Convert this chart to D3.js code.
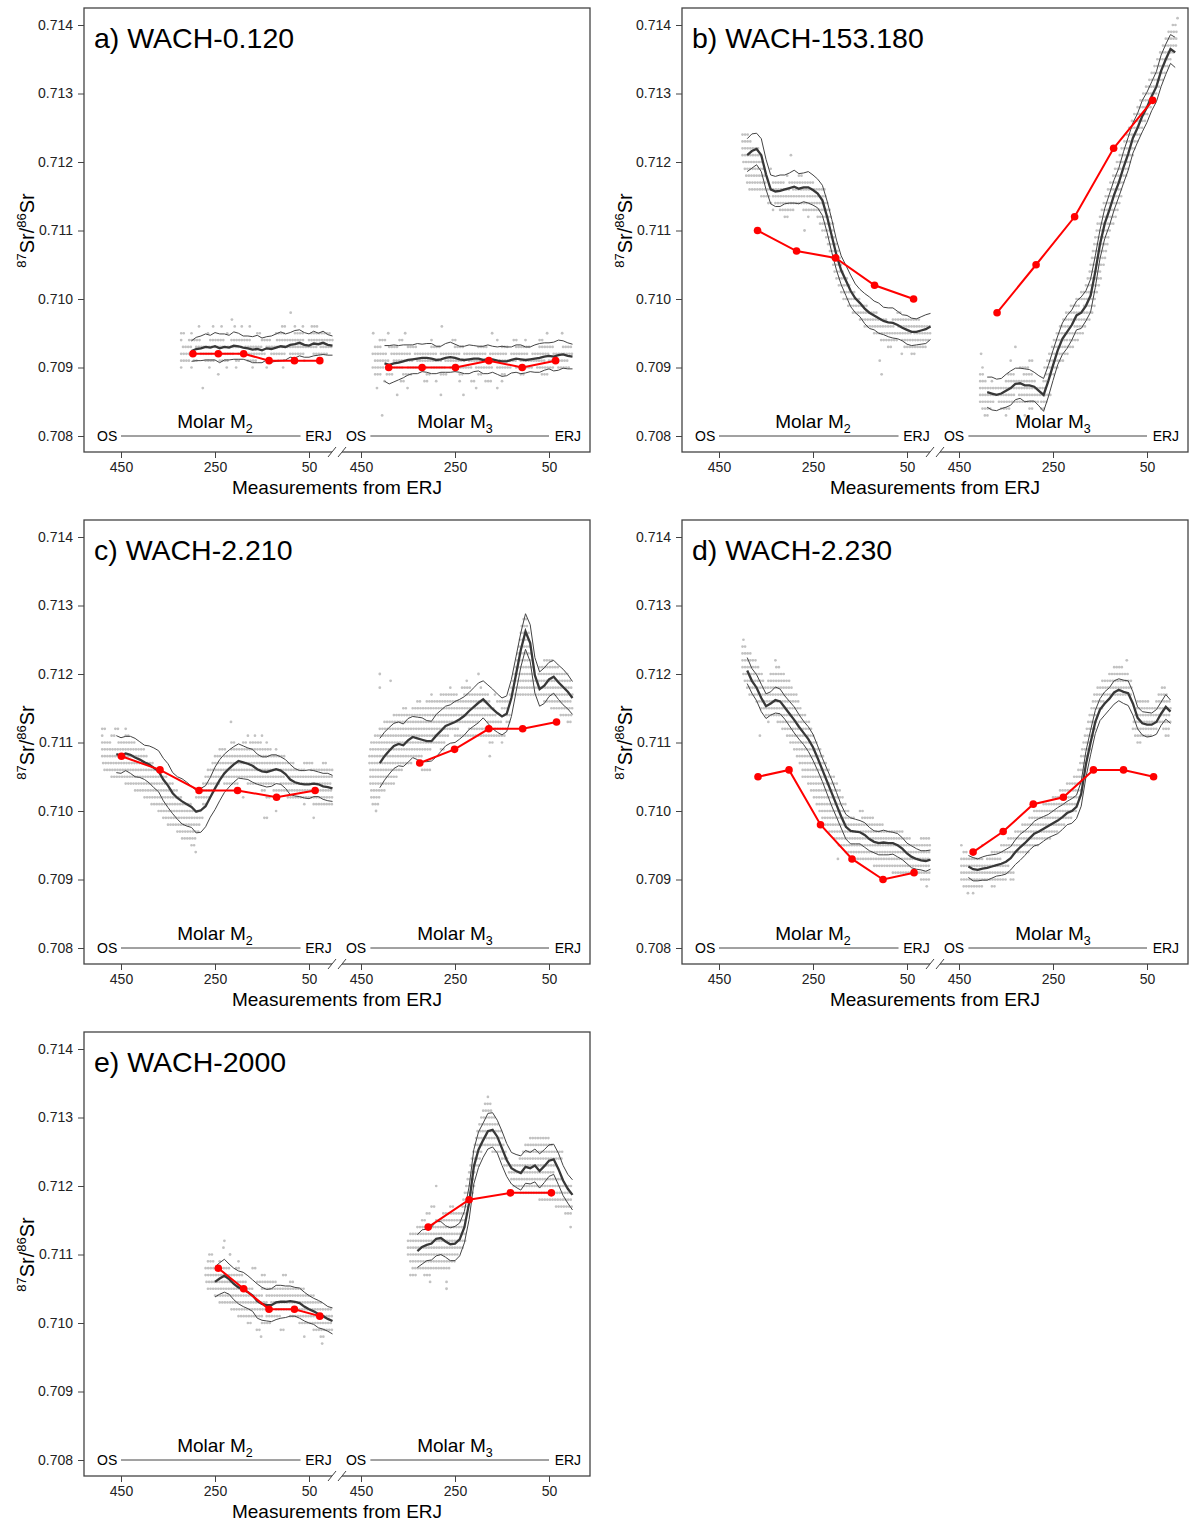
<!DOCTYPE html>
<html>
<head>
<meta charset="UTF-8">
<style>
  body { margin: 0; background: #fff; }
  svg { display: block; font-family: "Liberation Sans", Arial, sans-serif; }
</style>
</head>
<body>
<svg id="chart" width="1200" height="1524"></svg>
<script src="https://d3js.org/d3.v7.min.js"></script>
<script>

// ---- axis ticks
const yTicks = [0.708, 0.709, 0.710, 0.711, 0.712, 0.713, 0.714];
const xTicks = [450, 250, 50];

// ---- smoothed mean (every 10 units from ERJ, starting at *Start) and its CI half-width
const a2Start = 300;
const a2Mean = [0.70924,0.70927,0.70928,0.70930,0.70929,0.70931,0.70928,0.70930,0.70929,0.70932,0.70931,0.70929,0.70928,0.70926,0.70927,0.70925,0.70928,0.70927,0.70929,0.70931,0.70930,0.70933,0.70934,0.70936,0.70933,0.70932,0.70935,0.70934,0.70936,0.70933,0.70932];
const a2Ci = [0.00015,0.00017,0.00018,0.00019,0.00018,0.00020,0.00021,0.00019,0.00018,0.00020,0.00019,0.00017,0.00018,0.00019,0.00020,0.00018,0.00017,0.00019,0.00020,0.00021,0.00019,0.00018,0.00020,0.00019,0.00018,0.00017,0.00018,0.00016,0.00017,0.00015,0.00014];
const a3Start = 400;
const a3Mean = [0.70906,0.70904,0.70906,0.70907,0.70909,0.70911,0.70912,0.70913,0.70914,0.70914,0.70913,0.70911,0.70912,0.70914,0.70915,0.70914,0.70912,0.70911,0.70912,0.70913,0.70913,0.70911,0.70912,0.70912,0.70910,0.70909,0.70909,0.70911,0.70913,0.70912,0.70911,0.70912,0.70913,0.70914,0.70916,0.70917,0.70916,0.70918,0.70919,0.70917,0.70916];
const a3Ci = [0.00026,0.00028,0.00027,0.00025,0.00024,0.00022,0.00021,0.00022,0.00020,0.00021,0.00022,0.00020,0.00019,0.00021,0.00022,0.00020,0.00019,0.00020,0.00021,0.00019,0.00018,0.00020,0.00021,0.00019,0.00020,0.00022,0.00021,0.00019,0.00020,0.00021,0.00019,0.00018,0.00020,0.00021,0.00020,0.00019,0.00021,0.00022,0.00020,0.00019,0.00018];

const b2Start = 390;
const b2Mean = [0.71210,0.71216,0.71219,0.71210,0.71182,0.71160,0.71157,0.71158,0.71160,0.71162,0.71164,0.71161,0.71163,0.71163,0.71159,0.71154,0.71144,0.71120,0.71092,0.71064,0.71042,0.71027,0.71012,0.71001,0.70994,0.70986,0.70980,0.70976,0.70972,0.70968,0.70966,0.70965,0.70962,0.70958,0.70955,0.70952,0.70952,0.70954,0.70956,0.70960];
const b2Ci = [0.00024,0.00025,0.00023,0.00024,0.00022,0.00021,0.00022,0.00023,0.00021,0.00022,0.00024,0.00022,0.00021,0.00023,0.00022,0.00021,0.00022,0.00023,0.00024,0.00022,0.00021,0.00022,0.00023,0.00021,0.00020,0.00022,0.00023,0.00021,0.00022,0.00020,0.00021,0.00022,0.00020,0.00019,0.00021,0.00020,0.00019,0.00020,0.00021,0.00019];
const b3Start = 390;
const b3Mean = [0.70864,0.70862,0.70860,0.70862,0.70866,0.70870,0.70876,0.70877,0.70874,0.70874,0.70872,0.70866,0.70860,0.70880,0.70903,0.70925,0.70942,0.70952,0.70962,0.70976,0.70980,0.70990,0.71005,0.71040,0.71080,0.71110,0.71130,0.71152,0.71170,0.71192,0.71212,0.71235,0.71250,0.71267,0.71280,0.71296,0.71310,0.71333,0.71350,0.71365,0.71360];
const b3Ci = [0.00022,0.00024,0.00023,0.00022,0.00024,0.00025,0.00023,0.00022,0.00024,0.00023,0.00021,0.00022,0.00024,0.00023,0.00022,0.00021,0.00023,0.00024,0.00022,0.00021,0.00023,0.00022,0.00024,0.00023,0.00021,0.00022,0.00023,0.00022,0.00021,0.00023,0.00024,0.00022,0.00021,0.00023,0.00022,0.00021,0.00022,0.00023,0.00022,0.00021,0.00022];

const c2Start = 460;
const c2Mean = [0.71083,0.71081,0.71084,0.71082,0.71078,0.71075,0.71071,0.71068,0.71063,0.71058,0.71046,0.71037,0.71026,0.71019,0.71014,0.71010,0.71006,0.70999,0.71001,0.71007,0.71020,0.71033,0.71045,0.71055,0.71062,0.71068,0.71073,0.71071,0.71069,0.71066,0.71061,0.71058,0.71057,0.71059,0.71061,0.71059,0.71054,0.71046,0.71042,0.71040,0.71039,0.71039,0.71040,0.71039,0.71036,0.71035,0.71033];
const c2Ci = [0.00027,0.00026,0.00025,0.00027,0.00028,0.00026,0.00025,0.00027,0.00029,0.00030,0.00031,0.00032,0.00030,0.00031,0.00033,0.00032,0.00030,0.00031,0.00032,0.00030,0.00029,0.00031,0.00030,0.00028,0.00027,0.00026,0.00025,0.00024,0.00023,0.00024,0.00022,0.00021,0.00022,0.00023,0.00021,0.00020,0.00021,0.00022,0.00020,0.00019,0.00020,0.00021,0.00019,0.00018,0.00019,0.00020,0.00019];
const c3Start = 410;
const c3Mean = [0.71070,0.71080,0.71088,0.71095,0.71098,0.71096,0.71103,0.71108,0.71106,0.71104,0.71102,0.71102,0.71110,0.71117,0.71124,0.71127,0.71130,0.71134,0.71139,0.71146,0.71152,0.71158,0.71163,0.71156,0.71149,0.71143,0.71138,0.71142,0.71165,0.71200,0.71235,0.71262,0.71245,0.71198,0.71178,0.71183,0.71192,0.71196,0.71188,0.71181,0.71174,0.71165];
const c3Ci = [0.00036,0.00035,0.00034,0.00033,0.00032,0.00031,0.00032,0.00030,0.00031,0.00032,0.00030,0.00029,0.00031,0.00030,0.00029,0.00028,0.00030,0.00029,0.00028,0.00027,0.00028,0.00029,0.00027,0.00028,0.00029,0.00028,0.00027,0.00026,0.00027,0.00026,0.00025,0.00026,0.00027,0.00026,0.00025,0.00026,0.00025,0.00024,0.00025,0.00026,0.00025,0.00024];

const d2Start = 390;
const d2Mean = [0.71205,0.71190,0.71180,0.71165,0.71153,0.71157,0.71162,0.71160,0.71151,0.71142,0.71133,0.71123,0.71114,0.71105,0.71093,0.71077,0.71060,0.71043,0.71026,0.71009,0.70992,0.70977,0.70971,0.70970,0.70969,0.70965,0.70959,0.70955,0.70953,0.70954,0.70953,0.70953,0.70950,0.70945,0.70938,0.70933,0.70930,0.70928,0.70927,0.70929];
const d2Ci = [0.00019,0.00018,0.00019,0.00020,0.00018,0.00017,0.00019,0.00018,0.00017,0.00018,0.00019,0.00018,0.00017,0.00018,0.00019,0.00018,0.00017,0.00018,0.00019,0.00018,0.00017,0.00018,0.00019,0.00018,0.00017,0.00018,0.00017,0.00016,0.00017,0.00018,0.00017,0.00016,0.00017,0.00016,0.00015,0.00016,0.00015,0.00014,0.00015,0.00014];
const d3Start = 430;
const d3Mean = [0.70919,0.70915,0.70914,0.70916,0.70917,0.70919,0.70921,0.70923,0.70926,0.70931,0.70940,0.70947,0.70953,0.70960,0.70967,0.70970,0.70974,0.70978,0.70982,0.70986,0.70991,0.70997,0.71000,0.71006,0.71025,0.71068,0.71100,0.71130,0.71148,0.71157,0.71164,0.71173,0.71177,0.71174,0.71172,0.71157,0.71136,0.71128,0.71126,0.71126,0.71130,0.71142,0.71152,0.71145];
const d3Ci = [0.00016,0.00017,0.00016,0.00017,0.00018,0.00017,0.00016,0.00017,0.00018,0.00017,0.00018,0.00019,0.00018,0.00017,0.00018,0.00019,0.00018,0.00017,0.00018,0.00019,0.00018,0.00017,0.00018,0.00017,0.00018,0.00019,0.00018,0.00017,0.00016,0.00017,0.00016,0.00017,0.00016,0.00017,0.00018,0.00017,0.00016,0.00017,0.00018,0.00017,0.00018,0.00017,0.00018,0.00017];

const e2Start = 250;
const e2Mean = [0.71060,0.71065,0.71069,0.71064,0.71057,0.71052,0.71049,0.71045,0.71040,0.71032,0.71028,0.71026,0.71026,0.71030,0.71031,0.71031,0.71032,0.71031,0.71029,0.71024,0.71020,0.71017,0.71013,0.71010,0.71006,0.71003];
const e2Ci = [0.00022,0.00023,0.00024,0.00022,0.00023,0.00024,0.00025,0.00024,0.00023,0.00025,0.00024,0.00023,0.00024,0.00025,0.00024,0.00023,0.00022,0.00021,0.00022,0.00021,0.00020,0.00019,0.00020,0.00019,0.00018,0.00019];
const e3Start = 330;
const e3Mean = [0.71105,0.71111,0.71114,0.71116,0.71123,0.71124,0.71119,0.71115,0.71116,0.71122,0.71140,0.71175,0.71228,0.71253,0.71267,0.71280,0.71282,0.71272,0.71255,0.71238,0.71226,0.71222,0.71219,0.71228,0.71226,0.71230,0.71222,0.71229,0.71237,0.71239,0.71225,0.71208,0.71196,0.71187];
const e3Ci = [0.00024,0.00025,0.00023,0.00024,0.00025,0.00024,0.00023,0.00024,0.00025,0.00024,0.00023,0.00024,0.00025,0.00026,0.00025,0.00026,0.00025,0.00024,0.00025,0.00024,0.00023,0.00024,0.00025,0.00024,0.00023,0.00024,0.00025,0.00024,0.00023,0.00022,0.00023,0.00022,0.00021,0.00022];

// ---- raw LA measurements, grouped by their (0.0001-quantised) ratio:
//      [ratio, from, to, from, to, ...] = runs of measurements (distance from ERJ)
const a2Rows = [
  [0.7098, 89,89], [0.7097, 214,214],
  [0.7096, 284,282, 254,249, 236,234, 208,206, 193,191, 176,174, 107,97, 80,78, 63,61, 44,31],
  [0.7095, 322,314, 300,296, 265,262, 224,220, 160,150, 120,100, 80,60, 45,5],
  [0.7094, 322,318, 305,280, 260,230, 215,175, 150,130, 118,60, 50,0],
  [0.7093, 318,300, 290,255, 250,190, 185,150, 140,95, 90,30, 25,0],
  [0.7092, 322,290, 280,255, 245,210, 200,140, 130,100, 90,60, 40,10],
  [0.7091, 322,305, 295,285, 270,250, 240,220, 205,195, 180,160, 140,130, 115,100, 85,80, 60,55, 30,25],
  [0.7090, 322,318, 300,296, 262,260, 225,222, 205,203, 170,168, 140,138, 105,103],
  [0.7089, 243,243], [0.7087, 276,276]
];
const a3Rows = [
  [0.7096, 278,278],
  [0.7095, 424,424, 392,392, 356,356, 171,171, 54,54, 22,22],
  [0.7094, 410,398, 368,362, 300,300, 255,245, 160,160, 125,115, 100,100, 70,60],
  [0.7093, 420,405, 390,370, 350,330, 300,280, 250,230, 200,180, 150,135, 120,90, 70,40, 20,0],
  [0.7092, 425,395, 385,345, 335,290, 280,240, 230,185, 175,140, 130,95, 85,50, 40,0],
  [0.7091, 420,390, 380,340, 330,280, 270,230, 220,170, 160,120, 110,60, 50,10],
  [0.7090, 425,400, 390,360, 350,310, 300,270, 260,215, 205,170, 160,130, 120,85, 75,40, 30,5],
  [0.7089, 420,405, 395,380, 360,340, 310,300, 280,265, 240,230, 200,190, 150,140, 110,100, 65,50],
  [0.7088, 400,395, 365,355, 315,305, 290,290, 240,240, 215,205, 185,170, 150,150],
  [0.7087, 416,416, 351,351, 205,205, 160,160],
  [0.7086, 373,373, 280,280, 232,232], [0.7083, 405,405]
];
const b2Rows = [
  [0.7124, 400,385], [0.7123, 400,380], [0.7122, 400,365], [0.7121, 400,360, 297,297],
  [0.7120, 398,355], [0.7119, 395,352, 340,335], [0.7118, 392,350, 305,305, 280,270],
  [0.7117, 390,348, 335,310, 300,245], [0.7116, 385,345, 340,300, 292,225],
  [0.7115, 360,340, 335,268, 262,220], [0.7114, 345,338, 330,215], [0.7113, 335,330, 320,290, 270,212],
  [0.7112, 310,300, 260,255, 240,210], [0.7111, 235,207], [0.7110, 268,268, 230,205],
  [0.7109, 222,203], [0.7108, 218,200], [0.7107, 214,196], [0.7106, 210,192], [0.7105, 207,188],
  [0.7104, 204,182], [0.7103, 200,176], [0.7102, 195,168], [0.7101, 190,160], [0.7100, 185,150],
  [0.7099, 175,135], [0.7098, 165,110, 70,60], [0.7097, 150,90, 80,20],
  [0.7096, 140,75, 68,0], [0.7095, 120,40, 34,0], [0.7094, 105,70, 60,0], [0.7093, 90,80, 55,10],
  [0.7092, 61,61, 40,30], [0.7091, 108,108], [0.7089, 104,104]
];
const b3Rows = [
  [0.7083, 395,385, 350,345, 310,305],
  [0.7084, 400,380, 360,340, 300,290, 275,265],
  [0.7085, 405,375, 365,280, 275,262],
  [0.7086, 405,330, 322,255],
  [0.7087, 405,262],
  [0.7088, 405,390, 380,375, 350,285, 270,262],
  [0.7089, 405,398, 345,330, 312,290, 265,245],
  [0.7090, 400,395, 320,300, 268,238],
  [0.7091, 340,335, 300,290, 262,228],
  [0.7092, 403,403, 258,215], [0.7093, 330,330, 252,205], [0.7094, 248,220, 214,195],
  [0.7095, 242,185], [0.7096, 235,210, 204,178], [0.7097, 228,172], [0.7098, 222,165],
  [0.7099, 212,190, 184,160], [0.7100, 200,157], [0.7101, 190,154], [0.7102, 180,151],
  [0.7103, 176,148], [0.7104, 172,145], [0.7105, 170,142], [0.7106, 167,139], [0.7107, 165,136],
  [0.7108, 162,132], [0.7109, 160,128], [0.7110, 157,124], [0.7111, 155,120], [0.7112, 150,116],
  [0.7113, 146,112], [0.7114, 142,108], [0.7115, 138,104], [0.7116, 133,100], [0.7117, 128,95],
  [0.7118, 122,90], [0.7119, 118,86], [0.7120, 114,82], [0.7121, 108,77], [0.7122, 104,72],
  [0.7123, 98,66], [0.7124, 93,62], [0.7125, 88,56], [0.7126, 82,50], [0.7127, 77,44],
  [0.7128, 70,38], [0.7129, 64,32], [0.7130, 58,26], [0.7131, 52,20], [0.7132, 45,14],
  [0.7133, 40,8], [0.7134, 34,2], [0.7135, 28,-4], [0.7136, 22,-10], [0.7137, 16,-15],
  [0.7138, 10,-15], [0.7139, 4,-15], [0.7140, -5,-15], [0.7141, -15,-15]
];
const c2Rows = [
  [0.7113, 216,216],
  [0.7112, 490,482, 462,455, 440,440],
  [0.7111, 490,485, 470,460, 440,430, 180,175, 165,160, 150,146],
  [0.7110, 490,470, 455,420, 215,205, 190,180, 175,150, 140,135],
  [0.7109, 490,400, 240,225, 215,130, 120,118],
  [0.7108, 490,395, 250,235, 230,100],
  [0.7107, 488,380, 255,80, 60,40, 20,10],
  [0.7106, 485,360, 265,60, 45,0],
  [0.7105, 470,350, 270,100, 90,0],
  [0.7104, 440,340, 275,240, 230,200, 180,120, 110,0],
  [0.7103, 420,330, 285,250, 150,140, 125,0],
  [0.7102, 400,320, 290,260, 190,185, 140,130, 95,0],
  [0.7101, 385,300, 275,265, 60,55, 40,0],
  [0.7100, 370,280, 120,115], [0.7099, 360,275, 145,135, 40,35],
  [0.7098, 350,280], [0.7097, 330,285], [0.7096, 320,290], [0.7095, 300,292], [0.7094, 291,291]
];
const c3Rows = [
  [0.7128, 104,98], [0.7127, 108,94], [0.7126, 110,92], [0.7125, 112,90], [0.7124, 114,88],
  [0.7123, 116,86], [0.7122, 118,84, 60,40], [0.7121, 121,82, 70,30],
  [0.7120, 410,410, 200,200, 124,80, 72,10],
  [0.7119, 387,387, 225,222, 127,0],
  [0.7118, 410,410, 260,255, 235,215, 195,190, 130,0],
  [0.7117, 300,295, 280,245, 230,180, 165,160, 133,0],
  [0.7116, 330,320, 310,175, 160,135, 60,0],
  [0.7115, 360,350, 340,165, 150,135, 45,0],
  [0.7114, 380,160, 145,132, 25,0],
  [0.7113, 400,200, 180,150, 140,130, 10,0],
  [0.7112, 410,240, 220,140], [0.7111, 420,260, 250,140],
  [0.7110, 428,270, 176,170, 150,145], [0.7109, 430,300, 280,270], [0.7108, 432,320, 176,176],
  [0.7107, 432,340], [0.7106, 430,360, 320,300], [0.7105, 430,370], [0.7104, 430,380],
  [0.7103, 428,400], [0.7102, 428,410], [0.7101, 425,412], [0.7100, 418,418]
];
const d2Rows = [
  [0.7125, 398,394], [0.7124, 400,390], [0.7123, 400,380], [0.7122, 400,372, 330,326],
  [0.7121, 400,366, 328,320], [0.7120, 398,358, 340,310], [0.7119, 395,352, 345,300],
  [0.7118, 390,345, 340,292], [0.7117, 385,285], [0.7116, 370,278], [0.7115, 360,272],
  [0.7114, 350,265], [0.7113, 345,340, 325,258], [0.7112, 315,252], [0.7111, 363,363, 305,246],
  [0.7110, 298,240], [0.7109, 290,234], [0.7108, 284,228], [0.7107, 278,222], [0.7106, 272,216],
  [0.7105, 272,205], [0.7104, 260,198], [0.7103, 254,192], [0.7102, 248,186], [0.7101, 242,180],
  [0.7100, 236,170, 150,140], [0.7099, 230,160, 145,120], [0.7098, 224,100], [0.7097, 215,60],
  [0.7096, 205,40, 20,0], [0.7095, 195,0], [0.7094, 180,0], [0.7093, 197,197, 160,0],
  [0.7092, 120,0], [0.7091, 80,0], [0.7090, 20,0], [0.7089, 8,8]
];
const d3Rows = [
  [0.7088, 431,431, 420,415], [0.7089, 440,400, 380,370], [0.7090, 445,350, 340,330],
  [0.7091, 445,330], [0.7092, 445,340], [0.7093, 445,400, 390,360], [0.7094, 440,430, 380,300],
  [0.7095, 445,440, 400,395, 360,280], [0.7096, 345,255], [0.7097, 330,240], [0.7098, 315,225],
  [0.7099, 300,210], [0.7100, 290,200], [0.7101, 270,195], [0.7102, 250,192], [0.7103, 235,188],
  [0.7104, 220,186], [0.7105, 205,183], [0.7106, 196,180], [0.7107, 192,177], [0.7108, 190,174],
  [0.7109, 188,171], [0.7110, 185,170, 70,60], [0.7111, 182,165, 75,40, 10,0],
  [0.7112, 178,160, 80,30, 15,0], [0.7113, 175,155, 78,0], [0.7114, 172,150, 75,0],
  [0.7115, 168,145, 72,0], [0.7116, 165,140, 70,45, 30,0], [0.7117, 162,80, 25,5],
  [0.7118, 155,80, 18,8], [0.7119, 145,82], [0.7120, 130,88], [0.7121, 120,100], [0.7122, 93,93]
];
const e2Rows = [
  [0.7112, 230,230], [0.7111, 232,232], [0.7110, 262,255, 218,218],
  [0.7109, 265,250, 240,235, 200,195], [0.7108, 270,220, 205,195, 170,160],
  [0.7107, 270,190, 150,140, 105,95], [0.7106, 268,180, 160,120, 90,80],
  [0.7105, 265,170, 150,60], [0.7104, 250,150, 140,40], [0.7103, 240,140, 130,20],
  [0.7102, 215,130, 120,0], [0.7101, 200,150, 140,110, 90,0], [0.7100, 180,170, 150,130, 70,0],
  [0.7099, 161,150, 110,100, 40,0], [0.7098, 152,152, 60,55, 25,15], [0.7097, 22,22]
];
const e3Rows = [
  [0.7133, 180,178], [0.7132, 186,172], [0.7131, 190,168], [0.7130, 194,162], [0.7129, 198,158],
  [0.7128, 202,150], [0.7127, 205,146, 90,50], [0.7126, 208,143, 100,40],
  [0.7125, 211,190, 170,140, 105,20], [0.7124, 214,195, 150,135, 112,20],
  [0.7123, 217,200, 145,30], [0.7122, 220,205, 135,40], [0.7121, 223,208, 130,20],
  [0.7120, 290,285, 226,208, 125,0], [0.7119, 229,212, 110,0], [0.7118, 232,215, 70,0],
  [0.7117, 300,290, 260,250, 234,218, 35,0], [0.7116, 310,300, 275,220, 15,0],
  [0.7115, 320,310, 290,225], [0.7114, 330,228, 4,4], [0.7113, 345,225], [0.7112, 350,228],
  [0.7111, 350,232], [0.7110, 350,240], [0.7109, 345,250], [0.7108, 340,260],
  [0.7107, 345,330, 315,300], [0.7106, 303,303, 268,268], [0.7105, 268,268]
];

// ---- solution (drilled) samples: [distance from ERJ, ratio]
const a2Red = [[297,0.7092],[243,0.7092],[189,0.7092],[135,0.7091],[81,0.7091],[27,0.7091]];
const a3Red = [[391,0.7090],[320,0.7090],[249,0.7090],[178,0.7091],[107,0.7090],[36,0.7091]];
const b2Red = [[368,0.7110],[285,0.7107],[202,0.7106],[119,0.7102],[36,0.7100]];
const b3Red = [[369,0.7098],[286,0.7105],[204,0.7112],[121,0.7122],[38,0.7129]];
const c2Red = [[449,0.7108],[367,0.7106],[284,0.7103],[202,0.7103],[119,0.7102],[37,0.7103]];
const c3Red = [[325,0.7107],[251,0.7109],[178,0.7112],[106,0.7112],[34,0.7113]];
const d2Red = [[367,0.7105],[301,0.7106],[234,0.7098],[167,0.7093],[101,0.7090],[35,0.7091]];
const d3Red = [[420,0.7094],[356,0.7097],[292,0.7101],[228,0.7102],[164,0.7106],[100,0.7106],[36,0.7105]];
const e2Red = [[243,0.7108],[189,0.7105],[135,0.7102],[81,0.7102],[27,0.7101]];
const e3Red = [[307,0.7114],[220,0.7118],[132,0.7119],[45,0.7119]];

const panels = [
  {title: "a) WACH-0.120", col: 0, row: 0, teeth: [
    {start: a2Start, mean: a2Mean, ci: a2Ci, rows: a2Rows, red: a2Red},
    {start: a3Start, mean: a3Mean, ci: a3Ci, rows: a3Rows, red: a3Red}]},
  {title: "b) WACH-153.180", col: 1, row: 0, teeth: [
    {start: b2Start, mean: b2Mean, ci: b2Ci, rows: b2Rows, red: b2Red},
    {start: b3Start, mean: b3Mean, ci: b3Ci, rows: b3Rows, red: b3Red}]},
  {title: "c) WACH-2.210", col: 0, row: 1, teeth: [
    {start: c2Start, mean: c2Mean, ci: c2Ci, rows: c2Rows, red: c2Red},
    {start: c3Start, mean: c3Mean, ci: c3Ci, rows: c3Rows, red: c3Red}]},
  {title: "d) WACH-2.230", col: 1, row: 1, teeth: [
    {start: d2Start, mean: d2Mean, ci: d2Ci, rows: d2Rows, red: d2Red},
    {start: d3Start, mean: d3Mean, ci: d3Ci, rows: d3Rows, red: d3Red}]},
  {title: "e) WACH-2000", col: 0, row: 2, teeth: [
    {start: e2Start, mean: e2Mean, ci: e2Ci, rows: e2Rows, red: e2Red},
    {start: e3Start, mean: e3Mean, ci: e3Ci, rows: e3Rows, red: e3Red}]}
];

const meanStep = 10;
const colW = 598, rowH = 512;
const box = {x: 84, y: 8, w: 506, h: 444};
const font = "Liberation Sans, Arial, sans-serif";
const dotGrey = "#c2c2c2";

let svg = d3.select("#chart");
svg.append("rect").attr("width", 1200).attr("height", 1524).attr("fill", "#fff");

function drawPanel(p) {
  let g = svg.append("g")
      .attr("transform", `translate(${p.col * colW},${p.row * rowH})`);

  let y = d3.scaleLinear().domain([0.708, 0.714]).range([436, 25]);
  let xs = [
    d3.scaleLinear().domain([450, 50]).range([121, 309]),   // molar M2
    d3.scaleLinear().domain([450, 50]).range([361, 549])    // molar M3
  ];

  // y axis
  let ya = g.append("g")
      .attr("transform", `translate(${box.x},0)`)
      .call(d3.axisLeft(y).tickValues(yTicks).tickFormat(d3.format(".3f")).tickSize(6).tickPadding(5));
  ya.select(".domain").remove();
  ya.selectAll("line").attr("stroke", "#444");
  ya.selectAll("text").attr("font-size", 14).attr("fill", "#222").attr("font-family", font);

  // x axes (one per tooth)
  xs.forEach(x => {
    let xa = g.append("g")
        .attr("transform", `translate(0,${box.y + box.h})`)
        .call(d3.axisBottom(x).tickValues(xTicks).tickSize(6).tickPadding(4));
    xa.select(".domain").remove();
    xa.selectAll("line").attr("stroke", "#444");
    xa.selectAll("text").attr("font-size", 14).attr("fill", "#222").attr("font-family", font);
  });

  // frame
  g.append("rect")
      .attr("x", box.x).attr("y", box.y)
      .attr("width", box.w).attr("height", box.h)
      .attr("fill", "none").attr("stroke", "#444").attr("stroke-width", 1.3);

  // axis break between the two teeth
  let bx = (xs[0](0) + xs[1](500)) / 2 + 2, by = box.y + box.h;
  g.append("rect").attr("x", bx - 5).attr("y", by - 2).attr("width", 10).attr("height", 4).attr("fill", "#fff");
  [-5, 5].forEach(o => {
    g.append("line")
        .attr("x1", bx + o - 4).attr("y1", by + 5)
        .attr("x2", bx + o + 4).attr("y2", by - 5)
        .attr("stroke", "#444").attr("stroke-width", 1);
  });

  // titles
  g.append("text").attr("x", 94).attr("y", 48)
      .attr("font-size", 28.5).attr("fill", "#000").text(p.title);

  let yl = g.append("text")
      .attr("transform", `translate(34,${(y(0.708) + y(0.714)) / 2}) rotate(-90)`)
      .attr("text-anchor", "middle").attr("font-size", 20).attr("fill", "#000");
  yl.append("tspan").attr("font-size", 13).attr("dy", -8).text("87");
  yl.append("tspan").attr("dy", 8).text("Sr/");
  yl.append("tspan").attr("font-size", 13).attr("dy", -8).text("86");
  yl.append("tspan").attr("dy", 8).text("Sr");

  g.append("text").attr("x", (box.x * 2 + box.w) / 2).attr("y", 494)
      .attr("text-anchor", "middle").attr("font-size", 19).attr("fill", "#000")
      .text("Measurements from ERJ");

  // tooth annotations
  const sub = ["2", "3"];
  const osAt = [458, 439], lineFrom = [450, 430], lineTo = [68, 50], erjAt = [58, 38];
  xs.forEach((x, k) => {
    let ml = g.append("text").attr("x", x(250)).attr("y", 428)
        .attr("text-anchor", "middle").attr("font-size", 19).attr("fill", "#000");
    ml.append("tspan").text("Molar M");
    ml.append("tspan").attr("font-size", 12.5).attr("dy", 5).text(sub[k]);

    g.append("text").attr("x", x(osAt[k])).attr("y", y(0.708) + 5)
        .attr("text-anchor", "end").attr("font-size", 14).attr("fill", "#000").text("OS");
    g.append("line")
        .attr("x1", x(lineFrom[k])).attr("x2", x(lineTo[k]))
        .attr("y1", y(0.708)).attr("y2", y(0.708))
        .attr("stroke", "#444").attr("stroke-width", 1);
    g.append("text").attr("x", x(erjAt[k])).attr("y", y(0.708) + 5)
        .attr("text-anchor", "start").attr("font-size", 14).attr("fill", "#000").text("ERJ");
  });

  // data
  p.teeth.forEach((t, k) => {
    let x = xs[k];

    // raw measurements: runs of same-value points drawn as rows of dots
    let runs = [];
    t.rows.forEach(r => {
      for (let j = 1; j < r.length; j += 2) runs.push({v: r[0], a: r[j], b: r[j + 1]});
    });
    let raw = g.append("g");
    raw.selectAll("line").data(runs.filter(r => r.a !== r.b)).join("line")
        .attr("x1", r => x(r.a)).attr("x2", r => x(r.b))
        .attr("y1", r => y(r.v)).attr("y2", r => y(r.v))
        .attr("stroke", dotGrey).attr("stroke-width", 2.7)
        .attr("stroke-linecap", "round").attr("stroke-dasharray", "0 2.6");
    raw.selectAll("circle").data(runs.filter(r => r.a === r.b)).join("circle")
        .attr("cx", r => x(r.a)).attr("cy", r => y(r.v))
        .attr("r", 1.4).attr("fill", dotGrey);

    let pts = t.mean.map((v, i) => ({
      d: t.start - i * meanStep, m: v, c: t.ci[Math.min(i, t.ci.length - 1)]
    }));
    let line = f => d3.line().x(d => x(d.d)).y(d => y(f(d)))(pts);

    g.append("path").attr("d", line(d => d.m + d.c))
        .attr("fill", "none").attr("stroke", "#444").attr("stroke-width", 1);
    g.append("path").attr("d", line(d => d.m - d.c))
        .attr("fill", "none").attr("stroke", "#444").attr("stroke-width", 1);
    g.append("path").attr("d", line(d => d.m))
        .attr("fill", "none").attr("stroke", "#383838").attr("stroke-width", 2.3);

    g.append("path")
        .attr("d", d3.line().x(d => x(d[0])).y(d => y(d[1]))(t.red))
        .attr("fill", "none").attr("stroke", "#ff0000").attr("stroke-width", 2);
    g.append("g").selectAll("circle").data(t.red).join("circle")
        .attr("cx", d => x(d[0])).attr("cy", d => y(d[1]))
        .attr("r", 3.8).attr("fill", "#ff0000");
  });
}

panels.forEach(drawPanel);

</script>
</body>
</html>
